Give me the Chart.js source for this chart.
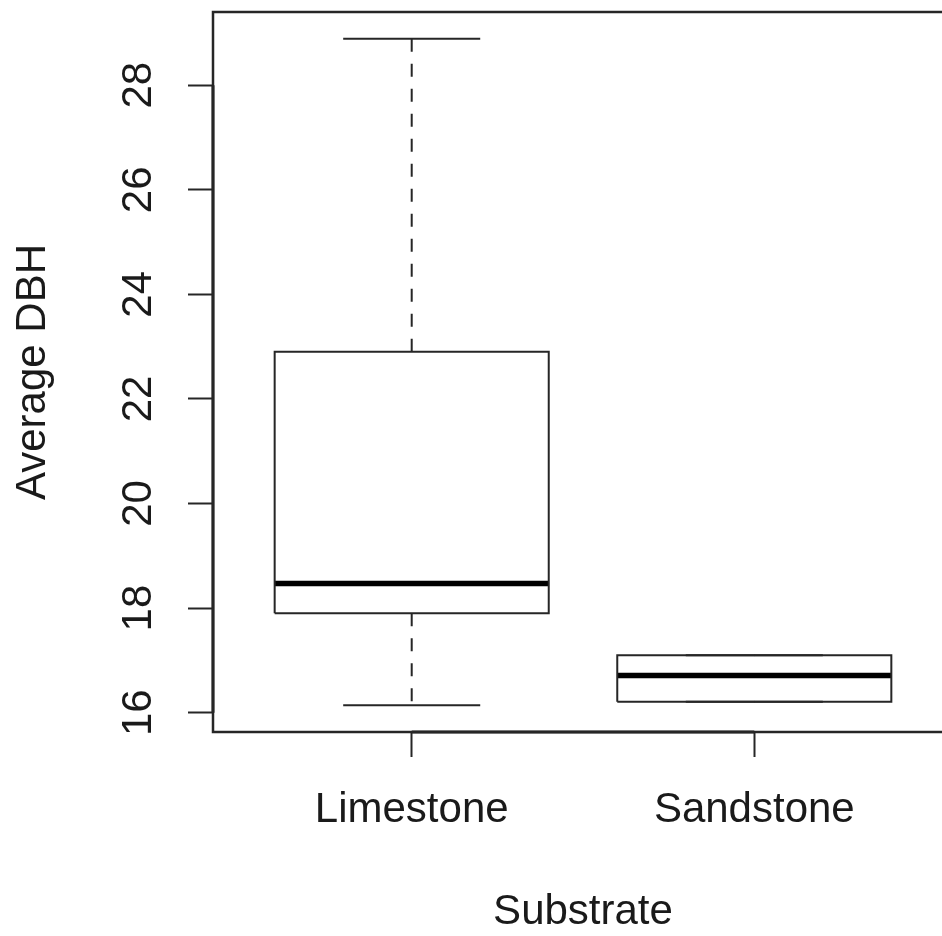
<!DOCTYPE html>
<html>
<head>
<meta charset="utf-8">
<title>Average DBH by Substrate</title>
<script src="https://cdn.jsdelivr.net/npm/chart.js@4.4.1/dist/chart.umd.min.js"></script>
<style>
    html, body { margin: 0; padding: 0; background: #fff; overflow: hidden; }
    #wrap { width: 960px; height: 936px; }
</style>
</head>
<body>
<div id="wrap"><canvas id="boxChart" width="960" height="936"></canvas></div>
<script>
// --- data ---
const categories = ['Limestone', 'Sandstone'];
const lowerWhisker = [16.14, 16.21];
const lowerQuartile = [17.90, 16.21];
const medians = [18.47, 16.71];
const upperQuartile = [22.90, 17.10];
const upperWhisker = [28.89, 17.10];
const yTicks = [16, 18, 20, 22, 24, 26, 28];

const BOX_HALF = 0.4;
const STAPLE_HALF = 0.2;
const INK = '#262626';
const FONT = '"Liberation Sans", Arial, Helvetica, sans-serif';

// axis ranges padded by 4% like base R
const lo = Math.min(...lowerWhisker), hi = Math.max(...upperWhisker);
const yPad = (hi - lo) * 0.04;
const xPad = (categories.length) * 0.04;

function seg(points, extra) {
    return Object.assign({
        data: points,
        showLine: true,
        pointRadius: 0,
        borderColor: INK,
        borderWidth: 2,
        fill: false
    }, extra || {});
}

const datasets = [];
categories.forEach((name, i) => {
    const x = i + 1;
    // box
    datasets.push(seg([
        {x: x - BOX_HALF, y: lowerQuartile[i]}, {x: x + BOX_HALF, y: lowerQuartile[i]},
        {x: x + BOX_HALF, y: upperQuartile[i]}, {x: x - BOX_HALF, y: upperQuartile[i]},
        {x: x - BOX_HALF, y: lowerQuartile[i]}
    ]));
    // whiskers
    datasets.push(seg([{x: x, y: upperQuartile[i]}, {x: x, y: upperWhisker[i]}], {borderDash: [13, 12]}));
    datasets.push(seg([{x: x, y: lowerQuartile[i]}, {x: x, y: lowerWhisker[i]}], {borderDash: [13, 12]}));
    // staples
    datasets.push(seg([{x: x - STAPLE_HALF, y: upperWhisker[i]}, {x: x + STAPLE_HALF, y: upperWhisker[i]}]));
    datasets.push(seg([{x: x - STAPLE_HALF, y: lowerWhisker[i]}, {x: x + STAPLE_HALF, y: lowerWhisker[i]}]));
    // median
    datasets.push(seg([{x: x - BOX_HALF, y: medians[i]}, {x: x + BOX_HALF, y: medians[i]}], {borderColor: '#000', borderWidth: 5.5}));
});

// plot frame plus the darker axis line between first and last tick
const framePlugin = {
    id: 'frame',
    afterDraw(chart) {
        const {ctx, chartArea: a, scales} = chart;
        ctx.save();
        ctx.strokeStyle = INK;
        ctx.lineWidth = 2.5;
        ctx.strokeRect(a.left, a.top, a.right - a.left, a.bottom - a.top);
        ctx.lineWidth = 3;
        ctx.beginPath();
        ctx.moveTo(a.left, scales.y.getPixelForValue(yTicks[0]));
        ctx.lineTo(a.left, scales.y.getPixelForValue(yTicks[yTicks.length - 1]));
        ctx.moveTo(scales.x.getPixelForValue(1), a.bottom);
        ctx.lineTo(scales.x.getPixelForValue(categories.length), a.bottom);
        ctx.stroke();
        ctx.restore();
    }
};

function noEdgePadding(s) {
    s.paddingTop = 0;
    s.paddingBottom = 0;
    s.paddingLeft = 0;
    s.paddingRight = 0;
}

new Chart(document.getElementById('boxChart'), {
    type: 'scatter',
    data: { datasets: datasets },
    plugins: [framePlugin],
    options: {
        responsive: false,
        animation: false,
        devicePixelRatio: 1,
        layout: { padding: { top: 12, right: 7, left: 0, bottom: 0 } },
        plugins: { legend: { display: false }, tooltip: { enabled: false } },
        scales: {
            x: {
                type: 'linear',
                min: 0.5 - xPad,
                max: categories.length + 0.5 + xPad,
                afterBuildTicks: (s) => { s.ticks = categories.map((c, i) => ({value: i + 1})); },
                afterFit: (s) => { s.height = 204; noEdgePadding(s); },
                border: { display: false },
                grid: { drawOnChartArea: false, drawTicks: true, tickLength: 25, tickWidth: 2, tickColor: INK },
                ticks: {
                    autoSkip: false,
                    maxRotation: 0,
                    padding: 28,
                    color: '#1a1a1a',
                    font: { family: FONT, size: 42 },
                    callback: (v) => categories[v - 1] || ''
                },
                title: {
                    display: true,
                    text: 'Substrate',
                    color: '#1a1a1a',
                    font: { family: FONT, size: 42, lineHeight: 1.1 },
                    padding: { top: 0, bottom: 0 }
                }
            },
            y: {
                type: 'linear',
                min: lo - yPad,
                max: hi + yPad,
                afterBuildTicks: (s) => { s.ticks = yTicks.map(v => ({value: v})); },
                afterFit: (s) => { s.width = 213; noEdgePadding(s); },
                border: { display: false },
                grid: { drawOnChartArea: false, drawTicks: true, tickLength: 25, tickWidth: 2, tickColor: INK },
                ticks: {
                    autoSkip: false,
                    minRotation: 90,
                    maxRotation: 90,
                    crossAlign: 'center',
                    padding: 25,
                    color: '#1a1a1a',
                    font: { family: FONT, size: 42 }
                },
                title: {
                    display: true,
                    text: 'Average DBH',
                    color: '#1a1a1a',
                    font: { family: FONT, size: 42, lineHeight: 1.1 },
                    padding: { top: 10, bottom: 0 }
                }
            }
        }
    }
});
</script>
</body>
</html>
